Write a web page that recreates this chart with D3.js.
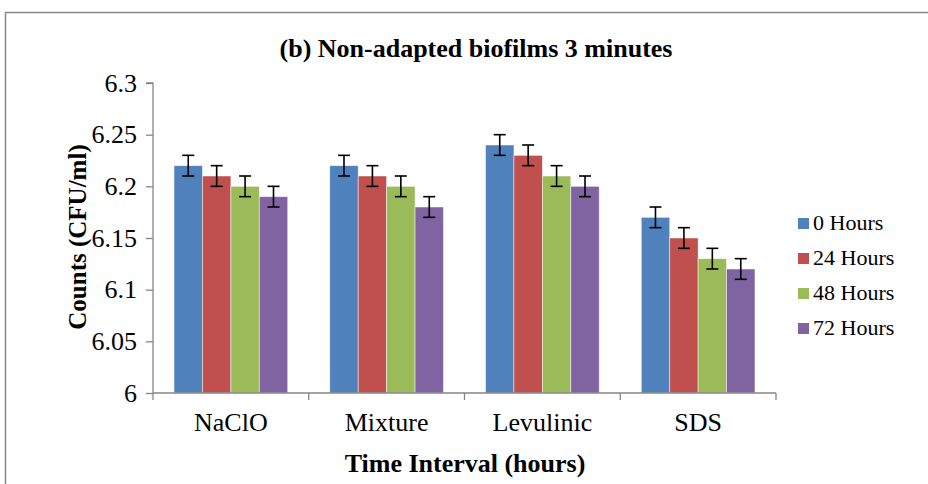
<!DOCTYPE html>
<html>
<head>
<meta charset="utf-8">
<script src="https://cdn.jsdelivr.net/npm/d3@7"></script>
<style>
  body { margin: 0; background: #fff; }
  svg text { font-family: "Liberation Serif", "Times New Roman", serif; }
</style>
</head>
<body>
<script>
// data
const categories = ['NaClO', 'Mixture', 'Levulinic', 'SDS'];
const seriesNames = ['0 Hours', '24 Hours', '48 Hours', '72 Hours'];
const hours0  = [6.22, 6.22, 6.24, 6.17];
const hours24 = [6.21, 6.21, 6.23, 6.15];
const hours48 = [6.20, 6.20, 6.21, 6.13];
const hours72 = [6.19, 6.18, 6.20, 6.12];
const errorVal = 0.01;
const yTicks = [6, 6.05, 6.1, 6.15, 6.2, 6.25, 6.3];
const colors = ['#4F81BD', '#C0504D', '#9BBB59', '#8064A2'];

const allSeries = [hours0, hours24, hours48, hours72];

const width = 928, height = 484;
const plot = {left: 153, right: 776, top: 83, bottom: 393};

const svg = d3.select('body').append('svg')
    .attr('width', width)
    .attr('height', height);

// outer frame
svg.append('rect')
    .attr('x', 5.5).attr('y', 12.5)
    .attr('width', 1000).attr('height', 1000)
    .attr('fill', 'none')
    .attr('stroke', '#868686')
    .attr('stroke-width', 1.5);

const x0 = d3.scaleBand()
    .domain(categories)
    .range([plot.left, plot.right])
    .paddingInner(0.27)
    .paddingOuter(0.135);

const x1 = d3.scaleBand()
    .domain(seriesNames)
    .range([0, x0.bandwidth()]);

const y = d3.scaleLinear()
    .domain([6, 6.3])
    .range([plot.bottom, plot.top]);

// bars
seriesNames.forEach((s, i) => {
  const g = svg.append('g');
  g.selectAll('rect')
    .data(allSeries[i])
    .join('rect')
      .attr('x', (d, j) => x0(categories[j]) + x1(s))
      .attr('y', d => y(d))
      .attr('width', x1.bandwidth())
      .attr('height', d => y(6) - y(d))
      .attr('fill', colors[i])
      .attr('stroke', 'rgba(255,255,255,0.6)')
      .attr('stroke-width', 0.8);

  // error bars
  const eb = g.selectAll('g.err')
    .data(allSeries[i])
    .join('g')
      .attr('class', 'err')
      .attr('transform', (d, j) => `translate(${x0(categories[j]) + x1(s) + x1.bandwidth() / 2},0)`);
  eb.append('line')
    .attr('y1', d => y(d + errorVal)).attr('y2', d => y(d - errorVal))
    .attr('stroke', '#000').attr('stroke-width', 1.6);
  eb.append('line')
    .attr('x1', -6).attr('x2', 6)
    .attr('y1', d => y(d + errorVal)).attr('y2', d => y(d + errorVal))
    .attr('stroke', '#000').attr('stroke-width', 1.6);
  eb.append('line')
    .attr('x1', -6).attr('x2', 6)
    .attr('y1', d => y(d - errorVal)).attr('y2', d => y(d - errorVal))
    .attr('stroke', '#000').attr('stroke-width', 1.6);
});

// y axis
const yAxisG = svg.append('g')
    .attr('transform', `translate(${plot.left},0)`)
    .call(d3.axisLeft(y).tickValues(yTicks).tickSize(7).tickPadding(9)
      .tickFormat(d => String(+d.toFixed(2))));
yAxisG.select('.domain').attr('stroke', '#868686').attr('stroke-width', 1.3)
    .attr('d', `M-7,${plot.top}H0V${plot.bottom}`);
yAxisG.selectAll('.tick line').attr('stroke', '#868686').attr('stroke-width', 1.3);
yAxisG.selectAll('.tick text')
    .attr('font-size', 26)
    .attr('font-family', '"Liberation Serif", serif')
    .attr('fill', '#000');

// x axis
const xAxisG = svg.append('g')
    .attr('transform', `translate(0,${plot.bottom})`);
xAxisG.append('line')
    .attr('x1', plot.left).attr('x2', plot.right)
    .attr('stroke', '#868686').attr('stroke-width', 1.3);
const bounds = categories.map(c => x0(c) - x0.step() * x0.paddingInner() / 2).concat([plot.right]);
bounds[0] = plot.left;
xAxisG.selectAll('line.tk')
  .data(bounds)
  .join('line')
    .attr('class', 'tk')
    .attr('x1', d => d).attr('x2', d => d)
    .attr('y1', 0).attr('y2', 7)
    .attr('stroke', '#868686').attr('stroke-width', 1.3);
xAxisG.selectAll('text')
  .data(categories)
  .join('text')
    .attr('x', d => x0(d) + x0.bandwidth() / 2)
    .attr('y', 38)
    .attr('text-anchor', 'middle')
    .attr('font-size', 26)
    .text(d => d);

// titles
svg.append('text')
    .attr('x', 476).attr('y', 57)
    .attr('text-anchor', 'middle')
    .attr('font-size', 26).attr('font-weight', 'bold')
    .text('(b) Non-adapted biofilms 3 minutes');

svg.append('text')
    .attr('x', 465).attr('y', 472)
    .attr('text-anchor', 'middle')
    .attr('font-size', 26).attr('font-weight', 'bold')
    .text('Time Interval (hours)');

svg.append('text')
    .attr('transform', `translate(86,237) rotate(-90)`)
    .attr('text-anchor', 'middle')
    .attr('font-size', 25).attr('font-weight', 'bold')
    .text('Counts (CFU/ml)');

// legend
const legend = svg.append('g').attr('transform', 'translate(798,223)');
const li = legend.selectAll('g')
  .data(seriesNames)
  .join('g')
    .attr('transform', (d, i) => `translate(0,${i * 35})`);
li.append('rect')
    .attr('x', 0).attr('y', -5)
    .attr('width', 11).attr('height', 11)
    .attr('fill', (d, i) => colors[i]);
li.append('text')
    .attr('x', 15).attr('y', 7)
    .attr('font-size', 22)
    .text(d => d);
</script>
</body>
</html>
